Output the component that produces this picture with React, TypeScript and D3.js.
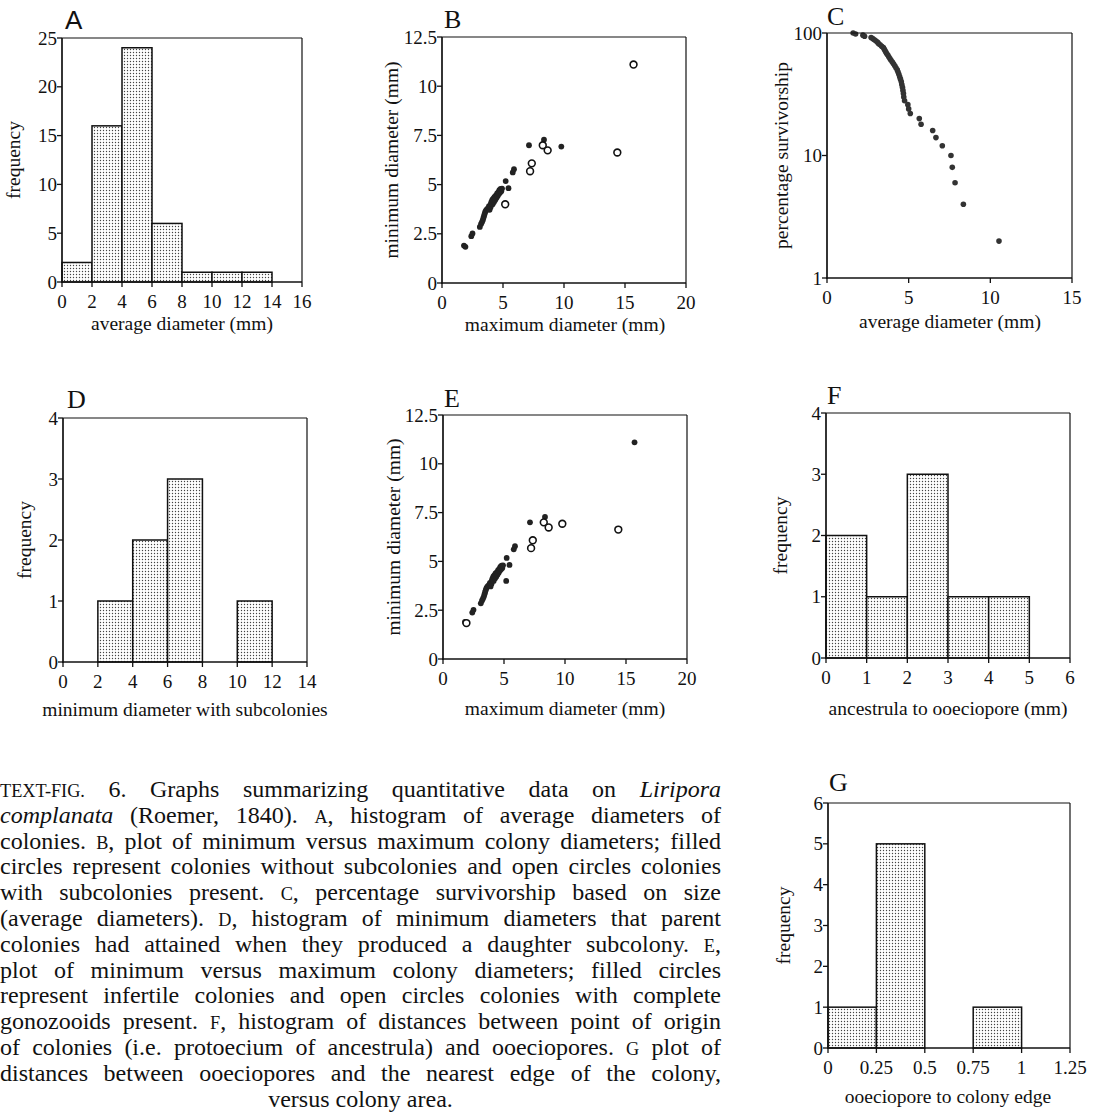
import React, { useMemo } from 'react';
import * as d3 from 'd3';

// ---------- DATA ----------
const histAEdges = [0, 2, 4, 6, 8, 10, 12, 14];
const histACounts = [2, 16, 24, 6, 1, 1, 1];
const histDEdges = [2, 4, 6, 8, 10, 12];
const histDCounts = [1, 2, 3, 0, 1];
const histFEdges = [0, 1, 2, 3, 4, 5];
const histFCounts = [2, 1, 3, 1, 1];
const histGEdges = [0, 0.25, 0.5, 0.75, 1];
const histGCounts = [1, 5, 0, 1];

// colonies: maximum & minimum diameter (mm)
const colonyMax = [
  1.8, 1.92, 2.4, 2.5, 3.1,
  3.2, 3.28, 3.35, 3.4, 3.45, 3.5, 3.55, 3.62, 3.7, 3.78, 3.9, 3.85, 3.98,
  4.0, 4.05, 4.12, 4.15, 4.2, 4.26, 4.3, 4.36, 4.42, 4.46, 4.52, 4.56, 4.62, 4.66, 4.7, 4.76, 4.8, 4.86, 4.92,
  5.22, 5.45, 5.8, 5.9, 5.18, 7.13, 7.22, 7.36, 8.36, 8.26, 8.66, 9.78, 14.37, 15.7,
];
const colonyMin = [
  1.9, 1.84, 2.38, 2.52, 2.85,
  3.0, 3.1, 3.2, 3.32, 3.42, 3.52, 3.62, 3.7, 3.75, 3.8, 3.72, 3.9, 3.85,
  4.02, 4.12, 4.22, 4.0, 4.28, 4.12, 4.38, 4.22, 4.45, 4.32, 4.55, 4.42, 4.62, 4.52, 4.72, 4.6, 4.78, 4.66, 4.8,
  5.18, 4.82, 5.62, 5.78, 4.0, 7.0, 5.68, 6.08, 7.28, 7.0, 6.74, 6.93, 6.63, 11.1,
];
// 1 = subcolonies present (open circle in B)
const hasSubcolony = [
  0, 0, 0, 0, 0,
  0, 0, 0, 0, 0, 0, 0, 0, 0, 0, 0, 0, 0,
  0, 0, 0, 0, 0, 0, 0, 0, 0, 0, 0, 0, 0, 0, 0, 0, 0, 0, 0,
  0, 0, 0, 0, 1, 0, 1, 1, 0, 1, 1, 0, 1, 1,
];
// 1 = complete gonozooids present (open circle in E)
const hasGonozooids = [
  0, 1, 0, 0, 0,
  0, 0, 0, 0, 0, 0, 0, 0, 0, 0, 0, 0, 0,
  0, 0, 0, 0, 0, 0, 0, 0, 0, 0, 0, 0, 0, 0, 0, 0, 0, 0, 0,
  0, 0, 0, 0, 0, 0, 1, 1, 0, 1, 1, 1, 1, 0,
];

// survivorship (C)
const survDiameter = [
  1.6, 1.75, 2.2, 2.3, 2.7, 2.8, 2.9, 3.0, 3.1, 3.15, 3.25, 3.35, 3.45, 3.5, 3.55, 3.6, 3.65, 3.72, 3.78, 3.85,
  3.92, 4.0, 4.07, 4.15, 4.22, 4.3, 4.35, 4.4, 4.45, 4.5, 4.55, 4.58, 4.62, 4.65, 4.68, 4.7, 4.75, 4.95, 5.0, 5.1,
  5.65, 5.76, 6.47, 6.67, 7.06, 7.59, 7.67, 7.84, 8.35, 10.53,
];
const survPercent = [
  100, 98, 96, 94, 92, 90, 88, 86, 84, 82, 80, 78, 76, 74, 72, 70, 68, 66, 64, 62,
  60, 58, 56, 54, 52, 50, 48, 46, 44, 42, 40, 38, 36, 34, 32, 30, 28, 26, 24, 22,
  20, 18, 16, 14, 12, 10, 8, 6, 4, 2,
];

// ticks
const aXTicks = [0, 2, 4, 6, 8, 10, 12, 14, 16];
const aYTicks = [0, 5, 10, 15, 20, 25];
const bXTicks = [0, 5, 10, 15, 20];
const bYTicks = [0, 2.5, 5, 7.5, 10, 12.5];
const cXTicks = [0, 5, 10, 15];
const cYTicks = [1, 10, 100];
const dXTicks = [0, 2, 4, 6, 8, 10, 12, 14];
const dYTicks = [0, 1, 2, 3, 4];
const fXTicks = [0, 1, 2, 3, 4, 5, 6];
const fYTicks = [0, 1, 2, 3, 4];
const gXTicks = [0, 0.25, 0.5, 0.75, 1, 1.25];
const gYTicks = [0, 1, 2, 3, 4, 5, 6];

const captionLines = [
  '^TEXT-FIG. 6. Graphs summarizing quantitative data on _Liripora_',
  '_complanata_ (Roemer, 1840). ^A, histogram of average diameters of',
  'colonies. ^B, plot of minimum versus maximum colony diameters; filled',
  'circles represent colonies without subcolonies and open circles colonies',
  'with subcolonies present. ^C, percentage survivorship based on size',
  '(average diameters). ^D, histogram of minimum diameters that parent',
  'colonies had attained when they produced a daughter subcolony. ^E,',
  'plot of minimum versus maximum colony diameters; filled circles',
  'represent infertile colonies and open circles colonies with complete',
  'gonozooids present. ^F, histogram of distances between point of origin',
  'of colonies (i.e. protoecium of ancestrula) and ooeciopores. ^G plot of',
  'distances between ooeciopores and the nearest edge of the colony,',
  'versus colony area.',
];

// ---------- STYLE ----------
const SERIF = '"Liberation Serif", "Times New Roman", serif';
const SANS = '"Liberation Sans", Arial, sans-serif';
const TICK_FS = 19;
const LABEL_FS = 19.5;
const LETTER_FS = 26;
const CAP_FS = 24;

type Rect = { x0: number; x1: number; y0: number; y1: number };

function Frame({ r, xs, ys, xTicks, yTicks, letter, letterX, letterY, letterFont, xLabel, xLabelX, xLabelDy, yLabel, yLabelX }: any) {
  return (
    <g>
      <line x1={r.x0} x2={r.x1} y1={r.y0} y2={r.y0} stroke="#111" strokeWidth={1.2} />
      <line x1={r.x1} x2={r.x1} y1={r.y0} y2={r.y1} stroke="#111" strokeWidth={1.2} />
      <line x1={r.x0} x2={r.x0} y1={r.y0} y2={r.y1 + 0.7} stroke="#111" strokeWidth={1.7} />
      <line x1={r.x0 - 0.7} x2={r.x1} y1={r.y1} y2={r.y1} stroke="#111" strokeWidth={1.7} />
      {xTicks.map((t: number) => (
        <g key={'x' + t}>
          <line x1={xs(t)} x2={xs(t)} y1={r.y1} y2={r.y1 + 5} stroke="#111" strokeWidth={1.3} />
          <text x={xs(t)} y={r.y1 + 26} textAnchor="middle" fontFamily={SERIF} fontSize={TICK_FS} fill="#111">
            {String(t)}
          </text>
        </g>
      ))}
      {yTicks.map((t: number) => (
        <g key={'y' + t}>
          <line x1={r.x0 - 5} x2={r.x0} y1={ys(t)} y2={ys(t)} stroke="#111" strokeWidth={1.3} />
          <text x={r.x0 - 5} y={ys(t)} dy="0.35em" textAnchor="end" fontFamily={SERIF} fontSize={TICK_FS} fill="#111">
            {String(t)}
          </text>
        </g>
      ))}
      <text x={letterX} y={letterY} fontFamily={letterFont || SERIF} fontSize={LETTER_FS} fill="#111">
        {letter}
      </text>
      <text x={xLabelX} y={r.y1 + (xLabelDy || 52)} textAnchor="middle" fontFamily={SERIF} fontSize={LABEL_FS} fill="#111">
        {xLabel}
      </text>
      <text
        transform={`translate(${yLabelX},${(r.y0 + r.y1) / 2}) rotate(-90)`}
        textAnchor="middle"
        fontFamily={SERIF}
        fontSize={LABEL_FS}
        fill="#111"
      >
        {yLabel}
      </text>
    </g>
  );
}

function Histogram({ r, edges, counts, xDomain, yDomain, xTicks, yTicks, ...rest }: any) {
  const xs = d3.scaleLinear().domain(xDomain).range([r.x0, r.x1]);
  const ys = d3.scaleLinear().domain(yDomain).range([r.y1, r.y0]);
  return (
    <g>
      {counts.map((c: number, i: number) =>
        c > 0 ? (
          <rect
            key={i}
            x={xs(edges[i])}
            y={ys(c)}
            width={xs(edges[i + 1]) - xs(edges[i])}
            height={ys(0) - ys(c)}
            fill="url(#dots)"
            stroke="#111"
            strokeWidth={1.5}
          />
        ) : null
      )}
      <Frame r={r} xs={xs} ys={ys} xTicks={xTicks} yTicks={yTicks} {...rest} />
    </g>
  );
}

function Scatter({ r, openFlags, ...rest }: any) {
  const xs = d3.scaleLinear().domain([0, 20]).range([r.x0, r.x1]);
  const ys = d3.scaleLinear().domain([0, 12.5]).range([r.y1, r.y0]);
  const idx = d3.range(colonyMax.length);
  return (
    <g>
      {idx.filter((i) => !openFlags[i]).map((i) => (
        <circle key={'f' + i} cx={xs(colonyMax[i])} cy={ys(colonyMin[i])} r={2.9} fill="#222" />
      ))}
      {idx.filter((i) => openFlags[i]).map((i) => (
        <circle key={'o' + i} cx={xs(colonyMax[i])} cy={ys(colonyMin[i])} r={3.4} fill="#fff" stroke="#111" strokeWidth={1.6} />
      ))}
      <Frame r={r} xs={xs} ys={ys} xTicks={bXTicks} yTicks={bYTicks} {...rest} />
    </g>
  );
}

function Survivorship({ r, ...rest }: any) {
  const xs = d3.scaleLinear().domain([0, 15]).range([r.x0, r.x1]);
  const ys = d3.scaleLog().domain([1, 100]).range([r.y1, r.y0]);
  return (
    <g>
      {survDiameter.map((d, i) => (
        <circle key={i} cx={xs(d)} cy={ys(survPercent[i])} r={2.8} fill="#333" />
      ))}
      <Frame r={r} xs={xs} ys={ys} xTicks={cXTicks} yTicks={cYTicks} {...rest} />
    </g>
  );
}

type Seg = { t: string; it?: boolean; sc?: boolean };

function parseToken(tok: string): Seg[] {
  if (tok.startsWith('_') && tok.endsWith('_')) return [{ t: tok.slice(1, -1), it: true }];
  if (tok.startsWith('^')) {
    const body = tok.slice(1);
    const m = body.match(/^(.*?)([,;]?)$/);
    const segs: Seg[] = [{ t: m ? m[1] : body, sc: true }];
    if (m && m[2]) segs.push({ t: m[2] });
    return segs;
  }
  return [{ t: tok }];
}

const SC_SCALE = 0.76;

function Caption() {
  const layout = useMemo(() => {
    const canvas = document.createElement('canvas');
    const ctx = canvas.getContext('2d')!;
    const measure = (s: Seg) => {
      const fs = s.sc ? CAP_FS * SC_SCALE : CAP_FS;
      ctx.font = `${s.it ? 'italic ' : ''}${fs}px ${SERIF}`;
      return ctx.measureText(s.t).width;
    };
    ctx.font = `${CAP_FS}px ${SERIF}`;
    const spaceW = ctx.measureText(' ').width;
    const left = 0;
    const right = 721;
    return captionLines.map((line, li) => {
      const toks = line.split(' ').map(parseToken);
      const widths = toks.map((segs) => segs.reduce((a, s) => a + measure(s), 0));
      const total = widths.reduce((a, b) => a + b, 0);
      const last = li === captionLines.length - 1;
      let gap = spaceW;
      let scale = 1;
      let x = left;
      if (!last && toks.length > 1) {
        gap = (right - left - total) / (toks.length - 1);
        if (gap < spaceW * 0.6) {
          gap = spaceW * 0.6;
          scale = (right - left) / (total + gap * (toks.length - 1));
        }
      }
      if (last) x = (left + right) / 2 - (total + gap * (toks.length - 1)) / 2;
      const placed = toks.map((segs, i) => {
        const px = x;
        x += widths[i] + gap;
        return { segs, x: left + (px - left) * scale };
      });
      return { placed, scale };
    });
  }, []);
  return (
    <g>
      {layout.map((line, li) =>
        line.placed.map((w, wi) => (
          <text
            key={li + '-' + wi}
            transform={`translate(${w.x},${797 + li * 25.8}) scale(${line.scale},1)`}
            fontFamily={SERIF}
            fontSize={CAP_FS}
            fill="#111"
          >
            {w.segs.map((s, si) => (
              <tspan key={si} fontStyle={s.it ? 'italic' : 'normal'} fontSize={s.sc ? CAP_FS * SC_SCALE : CAP_FS}>
                {s.t}
              </tspan>
            ))}
          </text>
        ))
      )}
    </g>
  );
}

export default function App() {
  const rA: Rect = { x0: 62, x1: 302, y0: 38, y1: 282 };
  const rB: Rect = { x0: 442, x1: 686, y0: 37, y1: 283 };
  const rC: Rect = { x0: 827, x1: 1072, y0: 33, y1: 278 };
  const rD: Rect = { x0: 63, x1: 307, y0: 418, y1: 662 };
  const rE: Rect = { x0: 443, x1: 687, y0: 415, y1: 659 };
  const rF: Rect = { x0: 826, x1: 1070, y0: 413, y1: 658 };
  const rG: Rect = { x0: 828, x1: 1070, y0: 803, y1: 1048 };
  return (
    <svg width={1094} height={1112} style={{ position: 'absolute', left: 0, top: 0 }} xmlns="http://www.w3.org/2000/svg">
      <defs>
        <pattern id="dots" width={3} height={3} patternUnits="userSpaceOnUse">
          <rect width={3} height={3} fill="#fff" />
          <circle cx={1.5} cy={1.5} r={0.7} fill="#444" />
        </pattern>
      </defs>
      <rect width={1094} height={1112} fill="#fff" />
      <Histogram
        r={rA} edges={histAEdges} counts={histACounts} xDomain={[0, 16]} yDomain={[0, 25]}
        xTicks={aXTicks} yTicks={aYTicks} letter="A" letterX={65} letterY={29} letterFont={SANS}
        xLabel="average diameter (mm)" xLabelX={182} xLabelDy={48} yLabel="frequency" yLabelX={20}
      />
      <Scatter
        r={rB} openFlags={hasSubcolony} letter="B" letterX={444} letterY={28}
        xLabel="maximum diameter (mm)" xLabelX={565} xLabelDy={48} yLabel="minimum diameter (mm)" yLabelX={398}
      />
      <Survivorship
        r={rC} letter="C" letterX={827} letterY={25}
        xLabel="average diameter (mm)" xLabelX={950} xLabelDy={50} yLabel="percentage survivorship" yLabelX={788}
      />
      <Histogram
        r={rD} edges={histDEdges} counts={histDCounts} xDomain={[0, 14]} yDomain={[0, 4]}
        xTicks={dXTicks} yTicks={dYTicks} letter="D" letterX={67} letterY={408}
        xLabel="minimum diameter with subcolonies" xLabelX={185} xLabelDy={54} yLabel="frequency" yLabelX={31}
      />
      <Scatter
        r={rE} openFlags={hasGonozooids} letter="E" letterX={444} letterY={407}
        xLabel="maximum diameter (mm)" xLabelX={565} xLabelDy={56} yLabel="minimum diameter (mm)" yLabelX={400}
      />
      <Histogram
        r={rF} edges={histFEdges} counts={histFCounts} xDomain={[0, 6]} yDomain={[0, 4]}
        xTicks={fXTicks} yTicks={fYTicks} letter="F" letterX={827} letterY={404}
        xLabel="ancestrula to ooeciopore (mm)" xLabelX={948} xLabelDy={57} yLabel="frequency" yLabelX={787}
      />
      <Histogram
        r={rG} edges={histGEdges} counts={histGCounts} xDomain={[0, 1.25]} yDomain={[0, 6]}
        xTicks={gXTicks} yTicks={gYTicks} letter="G" letterX={829} letterY={791}
        xLabel="ooeciopore to colony edge" xLabelX={948} xLabelDy={55} yLabel="frequency" yLabelX={790}
      />
      <Caption />
    </svg>
  );
}
